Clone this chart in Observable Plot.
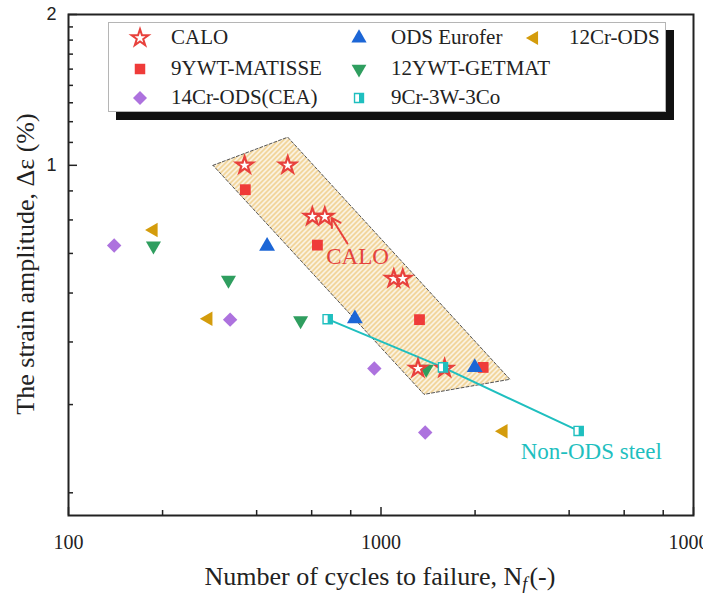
<!DOCTYPE html>
<html>
<head>
<meta charset="utf-8">
<script src="https://cdn.jsdelivr.net/npm/d3@7"></script>
<script src="https://cdn.jsdelivr.net/npm/@observablehq/plot@0.6"></script>
<style>
html,body{margin:0;padding:0;background:#fff;}
#wrap{position:relative;width:703px;height:593px;overflow:hidden;font-family:"Liberation Serif","Times New Roman",serif;color:#222;}
#legend{position:absolute;left:108px;top:22px;width:556px;height:88px;border:1px solid #b5b5b5;background:#fff;box-shadow:8px 8px 0 #111;}
.li{position:absolute;font-size:21px;line-height:21px;white-space:nowrap;color:#222;}
.ls{position:absolute;overflow:visible;}
#ytitle{position:absolute;left:26px;top:264px;transform:translate(-50%,-50%) rotate(-90deg);font-size:26px;white-space:nowrap;}
#xtitle{position:absolute;left:380px;top:577px;transform:translate(-50%,-50%);font-size:26px;white-space:nowrap;}
#xtitle sub{font-size:18px;vertical-align:-5px;line-height:0;}
</style>
</head>
<body>
<div id="wrap"></div>
<script>
// ---------------- data (N = cycles to failure, e = strain amplitude %) ----------------
const caloN = [366, 503, 603, 661, 1099, 1174, 1313, 1598];
const caloE = [1.0, 1.0, 0.79, 0.79, 0.594, 0.594, 0.393, 0.393];

const matisseN = [368, 626, 1328, 2123];
const matisseE = [0.894, 0.693, 0.492, 0.395];

const euroferN = [432, 825, 1995];
const euroferE = [0.69, 0.494, 0.395];

const getmatN = [187, 325, 553, 1395];
const getmatE = [0.691, 0.59, 0.49, 0.392];

const cr12N = [187, 280, 2463];
const cr12E = [0.743, 0.494, 0.2946];

const ceaN = [140, 329, 952, 1385];
const ceaE = [0.692, 0.492, 0.393, 0.293];

const cr9N = [675, 1579, 4290];
const cr9E = [0.493, 0.395, 0.295];

// shaded CALO band (parallelogram corners)
const bandN = [290, 503, 2585, 1373, 290];
const bandE = [1.0, 1.138, 0.374, 0.349, 1.0];

// annotations
const annoText = ["CALO", "Non-ODS steel"];
const annoN = [841, 2800];
const annoE = [0.657, 0.2685];
const arrowFrom = [781, 0.698];
const arrowTo = [695, 0.785];

// ticks
const xMajor = [100, 1000, 10000];
const xMinor = [200, 400, 600, 800, 2000, 4000, 6000, 8000];
const yMajor = [1, 2];
const yMinor = [0.222, 0.333, 0.444, 0.556, 0.667, 0.778, 0.889, 1.111, 1.222, 1.333, 1.444, 1.556, 1.667, 1.778, 1.889];

// series names / colours
const names = ["CALO", "9YWT-MATISSE", "14Cr-ODS(CEA)", "ODS Eurofer", "12YWT-GETMAT", "9Cr-3W-3Co", "12Cr-ODS"];
const colors = {
  calo: "#e8413c", matisse: "#ef3b39", cea: "#ad72de", eurofer: "#1c66d6",
  getmat: "#2f9e5f", cr9: "#1fbfbf", cr12: "#d49c0c"
};

const zip = (N, E) => N.map((n, i) => ({N: n, e: E[i]}));

// custom symbols
function triSym(angleDeg) {
  return {
    draw(ctx, size) {
      const y = -Math.sqrt(size / (Math.sqrt(3) * 3));
      const pts = [[0, 2 * y], [-Math.sqrt(3) * y, -y], [Math.sqrt(3) * y, -y]];
      const a = angleDeg * Math.PI / 180;
      pts.forEach(([px, py], i) => {
        const X = px * Math.cos(a) - py * Math.sin(a), Y = px * Math.sin(a) + py * Math.cos(a);
        i ? ctx.lineTo(X, Y) : ctx.moveTo(X, Y);
      });
      ctx.closePath();
    }
  };
}
const triUp = triSym(0), triDown = triSym(180), triLeft = triSym(-90);
const halfSquare = {
  draw(ctx, size) {
    const s = Math.sqrt(size) / 2;
    ctx.moveTo(0, -s); ctx.lineTo(s, -s); ctx.lineTo(s, s); ctx.lineTo(0, s); ctx.closePath();
  }
};

const hatchDefs = () => {
  const ns = "http://www.w3.org/2000/svg";
  const d = document.createElementNS(ns, "defs");
  d.innerHTML = `<pattern id="hatch" patternUnits="userSpaceOnUse" width="5" height="5">
    <rect width="5" height="5" fill="#f0d08f"/>
    <path d="M-1,1 l2,-2 M0,5 l5,-5 M4,6 l2,-2" stroke="#fff" stroke-width="1.5"/></pattern>`;
  return d;
};

const serif = "Liberation Serif";
const chart = Plot.plot({
  width: 703,
  height: 593,
  marginLeft: 68,
  marginRight: 10,
  marginTop: 14,
  marginBottom: 78,
  style: {fontFamily: serif, background: "white", overflow: "visible"},
  x: {type: "log", domain: [100, 10000]},
  y: {type: "log", domain: [0.2, 2]},
  marks: [
    hatchDefs,
    Plot.line(zip(bandN, bandE), {x: "N", y: "e", fill: "url(#hatch)", stroke: "#555", strokeWidth: 1, strokeDasharray: "3,2", curve: "linear"}),
    Plot.line(zip(cr9N, cr9E), {x: "N", y: "e", stroke: colors.cr9, strokeWidth: 2}),
    Plot.dot(zip(ceaN, ceaE), {x: "N", y: "e", symbol: "diamond2", r: 6.5, fill: colors.cea}),
    Plot.dot(zip(cr12N, cr12E), {x: "N", y: "e", symbol: triLeft, r: 5.4, fill: colors.cr12}),
    Plot.dot(zip(getmatN, getmatE), {x: "N", y: "e", symbol: triDown, r: 5.6, fill: colors.getmat}),
    Plot.dot(zip(matisseN, matisseE), {x: "N", y: "e", symbol: "square", r: 6.1, fill: colors.matisse}),
    Plot.dot(zip(euroferN, euroferE), {x: "N", y: "e", symbol: triUp, r: 5.9, fill: colors.eurofer}),
    Plot.dot(zip(caloN, caloE), {x: "N", y: "e", symbol: "star", r: 5.3, fill: "white", stroke: colors.calo, strokeWidth: 2.2}),
    Plot.dot(zip(cr9N, cr9E), {x: "N", y: "e", symbol: "square", r: 5.2, fill: "white", stroke: colors.cr9, strokeWidth: 1.4}),
    Plot.dot(zip(cr9N, cr9E), {x: "N", y: "e", symbol: halfSquare, r: 5.2, fill: colors.cr9}),
    Plot.arrow([{x1: arrowFrom[0], y1: arrowFrom[1], x2: arrowTo[0], y2: arrowTo[1]}], {x1: "x1", y1: "y1", x2: "x2", y2: "y2", stroke: colors.calo, strokeWidth: 2, headLength: 9}),
    Plot.text([{N: annoN[0], e: annoE[0], t: annoText[0]}], {x: "N", y: "e", text: "t", fill: "#e4433d", fontSize: 23, fontFamily: serif}),
    Plot.text([{N: annoN[1], e: annoE[1], t: annoText[1]}], {x: "N", y: "e", text: "t", fill: colors.cr9, fontSize: 23, fontFamily: serif, textAnchor: "start"}),
    // axes
    Plot.axisX({ticks: xMajor, tickSize: -8, fill: "none", label: null, strokeWidth: 1.5, stroke: "#222"}),
    Plot.axisX({ticks: xMinor, tickSize: -5, fill: "none", label: null, strokeWidth: 1.5, stroke: "#222"}),
    Plot.axisX({ticks: xMajor, tickSize: 0, tickPadding: 19, label: null, tickFormat: d => String(d), fontSize: 20, fontFamily: serif, fill: "#222"}),
    Plot.axisY({ticks: yMajor, tickSize: -9, fill: "none", label: null, strokeWidth: 1.5, stroke: "#222"}),
    Plot.axisY({ticks: yMinor, tickSize: -5, fill: "none", label: null, strokeWidth: 1.5, stroke: "#222"}),
    Plot.axisY({ticks: yMajor, tickSize: 0, tickPadding: 12, label: null, tickFormat: d => String(d), fontSize: 18, fontFamily: "Liberation Sans", fill: "#222"}),
    Plot.frame({stroke: "#222", strokeWidth: 2})
  ]
});

const wrap = document.getElementById("wrap");
wrap.appendChild(chart);

// axis titles
const yt = document.createElement("div");
yt.id = "ytitle";
yt.textContent = "The strain amplitude, \u0394\u03b5 (%)";
wrap.appendChild(yt);
const xt = document.createElement("div");
xt.id = "xtitle";
xt.innerHTML = "Number of cycles to failure, N<sub><i>f</i></sub>&#8202;(-)";
wrap.appendChild(xt);

// legend
const legend = document.createElement("div");
legend.id = "legend";
wrap.appendChild(legend);
const legendItems = [
  {name: names[0], col: 0, row: 0, sym: d3.symbolStar, size: 88, fill: "white", stroke: colors.calo, sw: 2},
  {name: names[1], col: 0, row: 1, sym: d3.symbolSquare, size: 110, fill: colors.matisse},
  {name: names[2], col: 0, row: 2, sym: d3.symbolDiamond2, size: 125, fill: colors.cea},
  {name: names[3], col: 1, row: 0, sym: triUp, size: 100, fill: colors.eurofer},
  {name: names[4], col: 1, row: 1, sym: triDown, size: 95, fill: colors.getmat},
  {name: names[5], col: 1, row: 2, sym: d3.symbolSquare, size: 80, fill: "white", stroke: colors.cr9, sw: 1.4, half: true},
  {name: names[6], col: 2, row: 0, sym: triLeft, size: 85, fill: colors.cr12}
];
const symX = [140, 359, 534], txtX = [171, 391, 569], rowY = [38, 69, 98];
const L0 = 108 + 1, T0 = 22 + 1;
for (const it of legendItems) {
  const cx = symX[it.col] - L0, cy = rowY[it.row] - T0;
  const ns = "http://www.w3.org/2000/svg";
  const s = document.createElementNS(ns, "svg");
  s.setAttribute("class", "ls");
  s.setAttribute("width", 24); s.setAttribute("height", 24);
  s.style.left = (cx - 12) + "px"; s.style.top = (cy - 12) + "px";
  const p = document.createElementNS(ns, "path");
  p.setAttribute("d", d3.symbol(it.sym, it.size)());
  p.setAttribute("transform", "translate(12,12)");
  p.setAttribute("fill", it.fill);
  if (it.stroke) { p.setAttribute("stroke", it.stroke); p.setAttribute("stroke-width", it.sw); }
  s.appendChild(p);
  if (it.half) {
    const h = document.createElementNS(ns, "path");
    h.setAttribute("d", d3.symbol(halfSquare, it.size)());
    h.setAttribute("transform", "translate(12,12)");
    h.setAttribute("fill", colors.cr9);
    s.appendChild(h);
  }
  legend.appendChild(s);
  const t = document.createElement("div");
  t.className = "li";
  t.textContent = it.name;
  t.style.left = (txtX[it.col] - L0) + "px";
  t.style.top = (cy - 11) + "px";
  legend.appendChild(t);
}
</script>
</body>
</html>
